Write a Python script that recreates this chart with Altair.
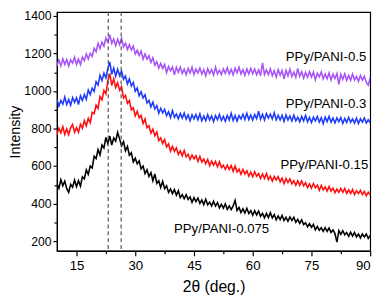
import altair as alt
import pandas as pd

# 2-theta grid: 10 to 90 deg, 0.5 deg step
two_theta = [10 + 0.5 * i for i in range(161)]

ppy_0075 = [505, 482, 527, 495, 520, 480, 460, 503, 488, 525, 490, 522, 493, 543, 532, 580, 556, 600, 590, 652,
            640, 688, 660, 712, 697, 753, 720, 760, 712, 750, 733, 780, 745, 708, 730, 682, 705, 658, 671, 622,
            642, 612, 628, 585, 600, 560, 580, 545, 565, 522, 558, 508, 522, 486, 519, 480, 495, 460, 478, 453,
            475, 445, 468, 432, 448, 426, 448, 422, 436, 407, 432, 411, 429, 401, 419, 395, 423, 394, 408, 388,
            412, 387, 405, 377, 396, 376, 399, 369, 388, 368, 388, 417, 364, 380, 352, 372, 350, 375, 347, 363,
            338, 362, 340, 360, 332, 348, 324, 348, 326, 352, 324, 342, 314, 334, 315, 337, 310, 327, 306, 329,
            310, 327, 300, 316, 295, 314, 288, 298, 276, 294, 274, 289, 260, 279, 258, 272, 252, 272, 252, 270,
            246, 260, 240, 195, 256, 236, 256, 234, 246, 226, 247, 227, 246, 223, 238, 217, 238, 223, 238, 215,
            230]

ppy_015 = [768, 802, 777, 810, 769, 798, 768, 805, 822, 781, 805, 780, 823, 802, 842, 814, 854, 831, 886, 879,
           925, 907, 971, 953, 1003, 985, 1055, 1093, 1030, 1065, 1018, 1044, 1005, 1024, 964, 977, 934, 950, 899, 910,
           868, 892, 857, 871, 827, 851, 805, 815, 776, 797, 762, 782, 736, 750, 721, 742, 702, 718, 680, 705,
           678, 697, 662, 681, 655, 683, 649, 663, 635, 659, 638, 655, 626, 651, 622, 637, 612, 635, 602, 627,
           606, 625, 596, 623, 592, 605, 582, 605, 582, 603, 572, 601, 568, 583, 556, 583, 558, 575, 546, 568,
           544, 570, 546, 560, 534, 558, 534, 560, 528, 546, 520, 544, 526, 544, 516, 536, 506, 534, 512, 532,
           506, 522, 498, 522, 498, 521, 495, 511, 485, 505, 483, 507, 485, 499, 471, 497, 473, 489, 467, 491,
           467, 483, 458, 477, 460, 481, 460, 481, 454, 473, 454, 475, 448, 469, 454, 471, 448, 465, 442, 461,
           446]

ppy_03 = [955, 920, 950, 930, 968, 928, 955, 924, 965, 940, 964, 928, 975, 950, 982, 956, 1005, 981, 1015, 998,
          1050, 1032, 1084, 1056, 1095, 1070, 1120, 1155, 1089, 1122, 1079, 1116, 1082, 1107, 1063, 1080, 1038, 1064, 1027, 1046,
          999, 1016, 975, 996, 963, 980, 936, 950, 915, 941, 905, 922, 882, 908, 883, 903, 869, 890, 859, 896,
          860, 878, 852, 881, 856, 883, 850, 873, 842, 873, 852, 875, 846, 878, 841, 867, 842, 874, 846, 867,
          837, 869, 847, 875, 843, 865, 839, 870, 846, 881, 843, 870, 840, 869, 851, 876, 848, 881, 847, 872,
          846, 875, 853, 892, 850, 876, 846, 880, 856, 877, 851, 884, 846, 871, 846, 871, 838, 873, 846, 867,
          840, 871, 841, 860, 836, 865, 841, 870, 836, 860, 832, 861, 841, 865, 834, 858, 826, 861, 837, 865,
          834, 856, 830, 857, 837, 859, 827, 854, 832, 860, 834, 851, 829, 855, 827, 852, 834, 856, 830, 847,
          831]

ppy_05 = [1135, 1165, 1134, 1172, 1142, 1168, 1133, 1166, 1149, 1180, 1142, 1170, 1141, 1181, 1162, 1198, 1171, 1201, 1184, 1228,
          1210, 1254, 1226, 1261, 1239, 1283, 1261, 1300, 1254, 1277, 1242, 1276, 1248, 1281, 1236, 1255, 1221, 1247, 1219, 1240,
          1197, 1218, 1190, 1213, 1170, 1198, 1170, 1188, 1153, 1178, 1138, 1156, 1122, 1147, 1120, 1142, 1098, 1131, 1108, 1128,
          1086, 1127, 1100, 1127, 1094, 1117, 1087, 1120, 1096, 1127, 1089, 1117, 1096, 1122, 1090, 1114, 1081, 1119, 1093, 1115,
          1085, 1127, 1091, 1111, 1088, 1118, 1094, 1124, 1091, 1115, 1087, 1121, 1097, 1127, 1091, 1114, 1084, 1118, 1091, 1121,
          1092, 1118, 1087, 1113, 1082, 1150, 1087, 1113, 1088, 1118, 1081, 1109, 1074, 1114, 1085, 1109, 1064, 1110, 1081, 1117,
          1078, 1101, 1073, 1120, 1079, 1103, 1068, 1099, 1073, 1104, 1075, 1101, 1060, 1095, 1075, 1102, 1065, 1091, 1066, 1097,
          1059, 1090, 1067, 1093, 1036, 1089, 1063, 1092, 1057, 1083, 1058, 1091, 1059, 1078, 1051, 1083, 1058, 1079, 1047, 1031,
          1071]

series_names = ["PPy/PANI-0.075", "PPy/PANI-0.3", "PPy/PANI-0.15", "PPy/PANI-0.5"]
series_values = [ppy_0075, ppy_03, ppy_015, ppy_05]
series_colors = ["#000000", "#1e3cfa", "#ff1010", "#a855f7"]

# Dashed reference lines (2theta positions)
ref_lines = [23.1, 26.4]

# Curve labels
label_text = ["PPy/PANI-0.5", "PPy/PANI-0.3", "PPy/PANI-0.15", "PPy/PANI-0.075"]
label_x = [89.0, 89.0, 89.5, 64.2]
label_y = [1181, 931, 607, 263]

x_major = [15, 30, 45, 60, 75, 90]
x_minor = [22.5, 37.5, 52.5, 67.5, 82.5]
y_major = [200, 400, 600, 800, 1000, 1200, 1400]
y_minor = [300, 500, 700, 900, 1100, 1300]

rows = []
for name, vals in zip(series_names, series_values):
    for xv, yv in zip(two_theta, vals):
        rows.append({"x": xv, "y": yv, "series": name})
df = pd.DataFrame(rows)

df_ref = pd.DataFrame({"x": ref_lines})
df_lab = pd.DataFrame({"x": label_x, "y": label_y, "text": label_text})

FONT = "Liberation Sans"
xs = alt.Scale(domain=[10, 90], nice=False, zero=False)
ys = alt.Scale(domain=[148, 1421], nice=False, zero=False)

lines = alt.Chart(df).mark_line(strokeWidth=1.6, clip=True).encode(
    x=alt.X("x:Q", scale=xs, axis=alt.Axis(
        values=x_major, title="2θ (deg.)", orient="bottom", format="d",
        tickSize=5, labelPadding=3, labelFontSize=13.5, titleFontSize=16,
        titlePadding=7, titleFontWeight="normal")),
    y=alt.Y("y:Q", scale=ys, axis=alt.Axis(
        values=y_major, title="Intensity", orient="left", format="d",
        tickSize=4, labelPadding=2, labelFontSize=12.5, titleFontSize=14.5,
        titlePadding=1, titleFontWeight="normal")),
    color=alt.Color("series:N", scale=alt.Scale(domain=series_names, range=series_colors), legend=None),
)

rules = alt.Chart(df_ref).mark_rule(strokeDash=[4, 3], color="#555555", strokeWidth=1.2).encode(
    x=alt.X("x:Q", scale=xs, axis=None),
)

texts = alt.Chart(df_lab).mark_text(align="right", baseline="middle", fontSize=13.5, font=FONT, color="black").encode(
    x=alt.X("x:Q", scale=xs, axis=alt.Axis(
        values=x_minor, labels=False, domain=False, tickSize=3, orient="bottom", title="")),
    y=alt.Y("y:Q", scale=ys, axis=alt.Axis(
        values=y_minor, labels=False, domain=False, tickSize=3, orient="left", title="")),
    text="text:N",
)

chart = alt.layer(lines, rules, texts).resolve_axis(x="independent", y="independent").properties(
    width=320, height=244,
    autosize=alt.AutoSizeParams(type="none"),
    padding={"left": 50, "top": 1, "right": 9, "bottom": 46},
).configure_view(stroke="black", strokeWidth=1.2).configure_axis(
    grid=False, domainColor="black", domainWidth=1.2, tickColor="black", tickWidth=1.2,
    labelColor="black", titleColor="black", labelFont=FONT, titleFont=FONT,
)

chart.save("out.html", embed_options={"renderer": "svg", "actions": False})
